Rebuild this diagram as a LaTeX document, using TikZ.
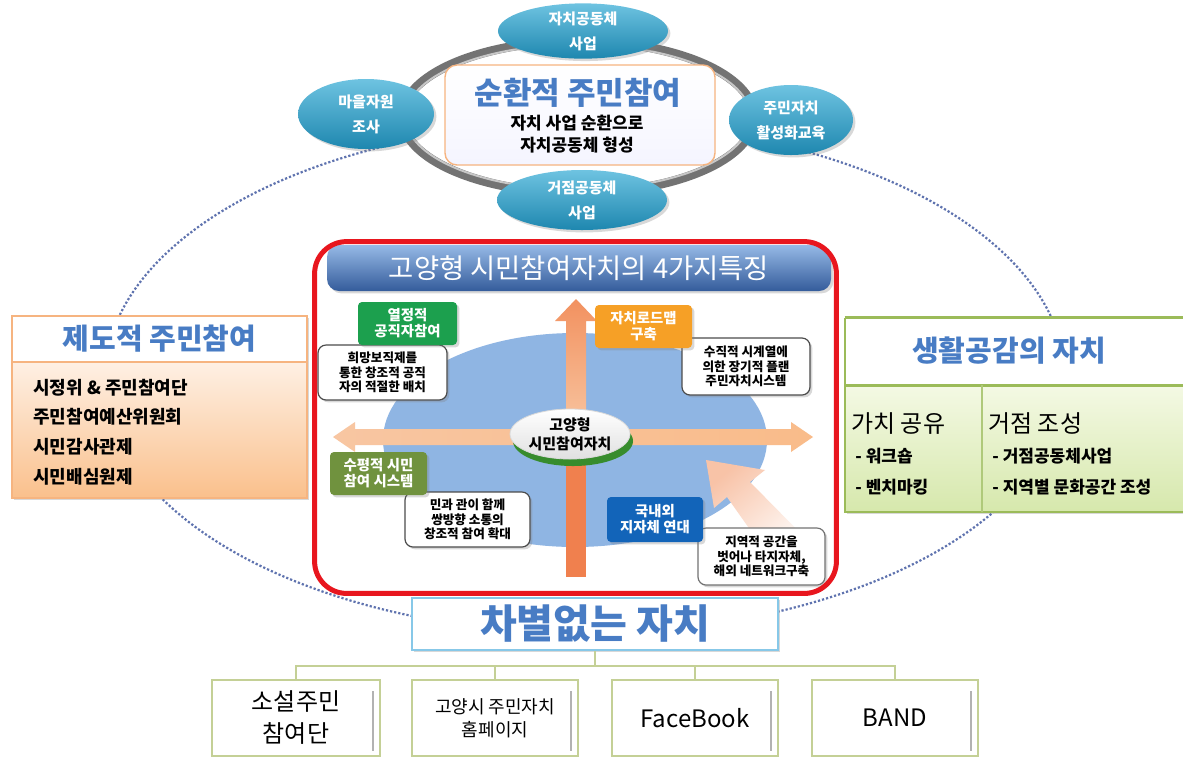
\documentclass[tikz,border=0pt]{standalone}
\usepackage{fontspec}
\setmainfont{Noto Sans CJK KR}
\usetikzlibrary{shapes.geometric,shadows}
\definecolor{ttlblue}{RGB}{72,124,196}
\definecolor{tealA}{RGB}{110,195,225}
\definecolor{tealB}{RGB}{30,135,175}
\definecolor{redb}{RGB}{232,22,30}
\definecolor{barA}{RGB}{150,185,230}
\definecolor{barB}{RGB}{52,92,155}
\definecolor{ellblue}{RGB}{143,181,227}
\definecolor{arrpeach}{RGB}{248,198,162}
\definecolor{arrorange}{RGB}{242,145,95}
\definecolor{stemorange}{RGB}{240,128,78}
\definecolor{labgreen}{RGB}{28,160,78}
\definecolor{laborange}{RGB}{246,160,38}
\definecolor{labolive}{RGB}{112,146,62}
\definecolor{labblue}{RGB}{18,100,185}
\definecolor{orbord}{RGB}{246,180,128}
\definecolor{peachA}{RGB}{254,240,228}
\definecolor{peachB}{RGB}{250,192,140}
\definecolor{grnline}{RGB}{155,187,89}
\definecolor{grnA}{RGB}{244,249,228}
\definecolor{grnB}{RGB}{214,232,172}
\definecolor{treeg}{RGB}{196,208,150}
\definecolor{cbline}{RGB}{135,200,232}
\definecolor{dotblue}{RGB}{95,115,175}
\definecolor{discgreen}{RGB}{55,140,45}
\tikzset{
  zsep/.style={inner sep=0pt},
  shd/.style={drop shadow={shadow xshift=1.2pt,shadow yshift=-1.2pt,opacity=.3}},
  tealell/.style={ellipse,top color=tealA,bottom color=tealB,text=white,align=center,
    font=\bfseries\fontsize{7.5}{12.5}\selectfont,shd,inner sep=0pt},
  labbox/.style={rounded corners=2pt,text=white,align=center,
    font=\bfseries\fontsize{7.2}{8}\selectfont,shd,inner sep=0pt},
  notebox/.style={draw=black!70,line width=.6pt,fill=white,rounded corners=4pt,align=center,
    font=\bfseries\fontsize{6.3}{7.3}\selectfont,shd,inner sep=0pt},
  ttl/.style={text=ttlblue},
  botbox/.style={draw=treeg,line width=1pt,fill=white,align=center,inner sep=0pt,
    minimum width=83pt,minimum height=38pt},
  tree/.style={treeg,line width=1pt}
}
\begin{document}
\begin{tikzpicture}[x=0.5pt,y=-0.5pt]
\useasboundingbox (0,0) rectangle (1183,757);
\fill[white] (0,0) rectangle (1183,757);

% big dotted ellipse
\draw[dotblue,line width=1.1pt,densely dotted] (585,378) ellipse [x radius=480, y radius=255];

% left box
\node[zsep,minimum width=147.5pt,minimum height=23pt,draw=orbord,line width=.8pt,fill=white,shd,ttl,
  font=\bfseries\fontsize{14.5}{16}\selectfont] (lh) at (159.5,339) {제도적 주민참여};
\node[zsep,minimum width=147.5pt,minimum height=68pt,draw=orbord,line width=.8pt,top color=peachA,bottom color=peachB,shd] (lb) at (159.5,430) {};
\node[anchor=west,align=left,zsep,font=\bfseries\fontsize{9}{14.85}\selectfont] (lt) at (33,432)
  {시정위 \& 주민참여단\\주민참여예산위원회\\시민감사관제\\시민배심원제};

% right box
\node[zsep,minimum width=169pt,minimum height=33.5pt,fill=white,shd] (rh) at (1014,351.5) {};
\node[zsep,minimum width=169pt,minimum height=63.5pt,top color=grnA,bottom color=grnB,shd] (rbx) at (1014,448.5) {};
\draw[grnline,line width=1.5pt] (rh.north west) -- (rh.north east);
\draw[grnline,line width=1.5pt] (rh.south west) -- (rh.south east);
\draw[grnline,line width=1pt] (rh.north west) -- (rbx.south west) -- (rbx.south east);
\draw[grnline!80,line width=1pt] (982,385) -- (982,512);
\node[ttl,font=\bfseries\fontsize{14.5}{16}\selectfont] (rtt) at (1009,351) {생활공감의 자치};
\node[anchor=west,zsep,font=\fontsize{12}{14}\selectfont] (r1) at (851,423) {가치 공유};
\node[anchor=west,zsep,font=\bfseries\fontsize{8.5}{10}\selectfont] (r1a) at (855,456) {- 워크숍};
\node[anchor=west,zsep,font=\bfseries\fontsize{8.5}{10}\selectfont] (r1b) at (855,487) {- 벤치마킹};
\node[anchor=west,zsep,font=\fontsize{12}{14}\selectfont] (r2) at (988,423) {거점 조성};
\node[anchor=west,zsep,font=\bfseries\fontsize{8.5}{10}\selectfont] (r2a) at (992,456) {- 거점공동체사업};
\node[anchor=west,zsep,font=\bfseries\fontsize{8.5}{10}\selectfont] (r2b) at (992,487) {- 지역별 문화공간 조성};

% top cycle
\draw[line width=4.5pt,draw=black!55,fill=white] (578,117) ellipse [x radius=176, y radius=76];
\draw[line width=1pt,draw=black!22] (578,117) ellipse [x radius=172.5, y radius=72.5];
\node[zsep,minimum width=135pt,minimum height=50pt,rounded corners=6pt,draw=orbord,line width=.7pt,top color=white,bottom color=blue!4] (cyc) at (580,115) {};
\node[ttl,font=\bfseries\fontsize{15.5}{18}\selectfont] (cyct) at (578,93) {순환적 주민참여};
\node[align=center,font=\bfseries\fontsize{8.5}{11}\selectfont] (cycs) at (577,134) {자치 사업 순환으로\\자치공동체 형성};
\node[tealell,minimum width=85pt,minimum height=27pt] (e1) at (583,31) {자치공동체\\사업};
\node[tealell,minimum width=68pt,minimum height=35pt] (e2) at (366,114) {마을자원\\조사};
\node[tealell,minimum width=62pt,minimum height=35pt] (e3) at (791,120) {주민자치\\활성화교육};
\node[tealell,minimum width=85pt,minimum height=30pt] (e4) at (582,200) {거점공동체\\사업};

% red framed central panel
\node[zsep,minimum width=260.5pt,minimum height=175.5pt,fill=white,rounded corners=16pt] (rb) at (575.5,417.5) {};
\node[zsep,minimum width=252pt,minimum height=23pt,top color=barA,bottom color=barB,rounded corners=6pt,text=white,
  font=\fontsize{13.7}{15}\selectfont,shd] (tb) at (579,268) {고양형 시민참여자치의 4가지특징};
\fill[ellblue] (575,440) ellipse [x radius=192, y radius=107];
% arrows
\fill[stemorange] (566,455) rectangle (586,577);
\shade[left color=arrpeach,right color=arrpeach!85!orange] (333,437) -- (355,422) -- (355,429) -- (791,429) -- (791,422) -- (813,437)
  -- (791,452) -- (791,445) -- (355,445) -- (355,452) -- cycle;
\shade[top color=arrorange,bottom color=arrpeach] (566,432) -- (566,321) -- (555,321) -- (576,299) -- (597,321) -- (586,321) -- (586,432) -- cycle;
\shade[top color=arrorange!55,bottom color=white,shading angle=40] (706,460) -- (765,470) -- (750,482) -- (812,545)
  -- (775,565) -- (727,497) -- (714,508) -- cycle;
% centre disc
\fill[discgreen] (573,441) ellipse [x radius=60, y radius=25];
\node[ellipse,zsep,minimum width=60pt,minimum height=25pt,top color=white,bottom color=black!12,draw=black!15,align=center,
  font=\bfseries\fontsize{7.5}{9.5}\selectfont] (disc) at (570,434) {고양형\\시민참여자치};
% notes and labels
\node[notebox,minimum width=64.5pt,minimum height=27.5pt] (n1) at (382.5,372.5) {희망보직제를\\통한 창조적 공직\\자의 적절한 배치};
\node[labbox,minimum width=49.5pt,minimum height=21.5pt,fill=labgreen] (l1) at (407.5,323.5) {열정적\\공직자참여};
\node[notebox,minimum width=64pt,minimum height=28.5pt] (n2) at (746,366.5) {수직적 시계열에\\의한 장기적 플랜\\주민자치시스템};
\node[labbox,minimum width=48.5pt,minimum height=21.5pt,fill=laborange] (l2) at (643.5,326.5) {자치로드맵\\구축};
\node[notebox,minimum width=62.5pt,minimum height=27.5pt] (n3) at (467.5,519.5) {민과 관이 함께\\쌍방향 소통의\\창조적 참여 확대};
\node[labbox,minimum width=48.5pt,minimum height=21.5pt,fill=labolive] (l3) at (378.5,473.5) {수평적 시민\\참여 시스템};
\node[notebox,minimum width=63.5pt,minimum height=28.5pt,draw=black!55] (n4) at (761.5,556.5) {지역적 공간을\\벗어나 타지자체,\\해외 네트워크구축};
\node[labbox,minimum width=48pt,minimum height=22.5pt,fill=labblue] (l4) at (655,519.5) {국내외\\지자체 연대};
\draw[redb,line width=2.5pt,rounded corners=16pt] (rb.north west) rectangle (rb.south east);

% bottom
\node[zsep,minimum width=183pt,minimum height=26pt,draw=cbline,line width=1pt,fill=white,shd,ttl,
  font=\bfseries\fontsize{20}{22}\selectfont] (cb) at (595,624) {차별없는 자치};
\node[botbox,minimum width=84pt,font=\fontsize{12}{16}\selectfont] (b1) at (296,718) {소설주민\\참여단};
\node[botbox,font=\fontsize{9}{11.5}\selectfont] (b2) at (495,718) {고양시 주민자치\\홈페이지};
\node[botbox,font=\fontsize{12}{14}\selectfont] (b3) at (695,718) {FaceBook};
\node[botbox,font=\fontsize{12}{14}\selectfont] (b4) at (895,718) {BAND};
\foreach \b in {b1,b2,b3,b4}{
  \draw[black!30,line width=.8pt] ([xshift=-4pt,yshift=-6pt]\b.north east) -- ([xshift=-4pt,yshift=3pt]\b.south east);
}
\coordinate (j) at (595,666);
\draw[tree] (cb.south) -- (j);
\draw[tree] (b1.north) -- (b1.north |- j) -- (b4.north |- j) -- (b4.north);
\draw[tree] (b2.north) -- (b2.north |- j);
\draw[tree] (b3.north) -- (b3.north |- j);
\end{tikzpicture}
\end{document}
